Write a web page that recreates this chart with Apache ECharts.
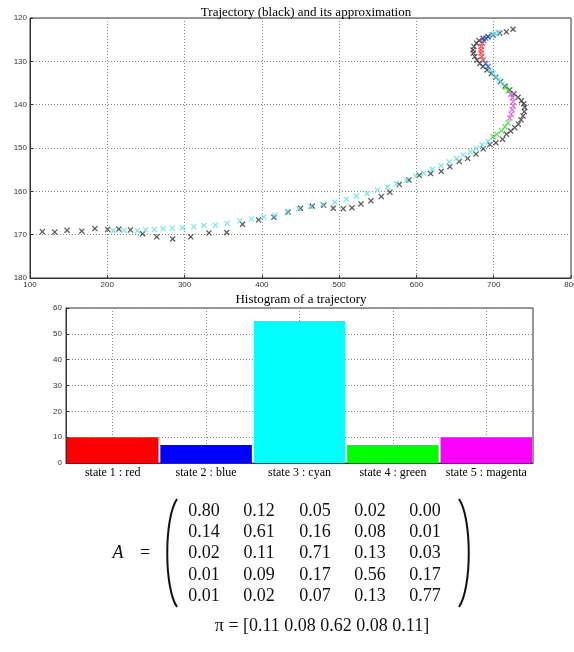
<!DOCTYPE html>
<html>
<head>
<meta charset="utf-8">
<script src="https://cdn.jsdelivr.net/npm/echarts@6/dist/echarts.min.js"></script>
<style>
html, body { margin: 0; padding: 0; background: #fff; }
#chart { width: 574px; height: 652px; }
</style>
</head>
<body>
<div id="chart"></div>
<script>
// observed trajectory (black crosses), [x, y]
var trajectory = [
    [116, 169.3], [132, 169.4], [148, 169.0], [167, 169.2], [184, 168.6], [200.5, 168.8],
    [215, 168.7], [230, 168.9], [245.7, 169.8], [264, 170.5], [284.6, 171.0], [308, 170.5],
    [331.6, 169.6], [354.5, 169.5], [375, 167.6], [395.8, 166.6], [415.6, 166.0], [434, 164.8],
    [450, 163.9], [465.3, 163.4], [480, 163.2], [492.4, 163.9], [505.3, 164.0], [516.6, 163.8],
    [528.2, 162.9], [541.1, 162.2], [554.5, 161.2], [565.7, 160.2], [577.8, 158.4], [590.3, 157.4],
    [603.7, 156.3], [618.3, 155.9], [632.1, 155.4], [643.3, 154.3], [655.4, 153.1], [666.2, 152.4],
    [677, 151.4], [686.4, 150.2], [695, 149.2], [702.8, 148.8], [711.5, 148.0],
    [716.4, 146.8], [722, 146.1], [727.2, 145.3], [731.9, 144.5], [735.3, 143.5], [737.9, 142.6],
    [739.7, 141.6], [740.1, 140.6], [738.8, 139.8], [735.8, 139.1], [731.5, 138.3], [726.3, 137.5],
    [720.7, 136.6], [714.6, 135.7], [708.7, 134.7], [702.6, 133.7], [697, 132.8], [691.4, 132.0],
    [686.2, 131.2], [681.9, 130.5], [678.4, 129.7], [675.4, 128.9], [673.7, 128.1], [673.3, 127.4],
    [674.5, 126.6], [677.6, 125.8], [681, 125.2], [686.2, 124.7], [692.7, 124.3], [699.2, 123.9],
    [707.8, 123.5], [716.4, 123.2], [725, 122.6]
];

// approximation, one list per state colour
var approxCyan = [
    [207.8, 169.1], [221.6, 169.0], [238.8, 169.1], [249.6, 168.9], [260.8, 168.8], [272.4, 168.6],
    [284.1, 168.5], [297.4, 168.4], [312.1, 168.2], [325, 167.9], [339.7, 167.8], [355.2, 167.4],
    [371.6, 166.8], [386.7, 166.4], [402.6, 165.9], [416.8, 165.5], [433, 164.6], [448, 164.0],
    [463, 163.5], [479, 163.0], [494.4, 162.5], [509.5, 161.8], [522.4, 161.1], [536.2, 160.5],
    [549.6, 159.7], [562.5, 159.0], [574.2, 158.2], [587.1, 157.4], [599.2, 156.5], [609.5, 155.8],
    [620.7, 154.9], [631.9, 154.1], [642.2, 153.2], [651.8, 152.4], [660.4, 151.6], [669.9, 150.9],
    [677.6, 150.1], [684.9, 149.3], [692.7, 148.5],
    [695.8, 132.0], [699.2, 132.8], [702.6, 133.5], [706.9, 134.3], [711.3, 135.2],
    [697, 123.9], [701.3, 123.5], [705.6, 123.3]
];
var approxGreen = [
    [715.6, 136.0], [718.6, 136.8],
    [718.6, 144.2], [714.6, 145.1], [710, 146.0], [704.3, 146.8], [699.2, 147.4]
];
var approxMagenta = [
    [722, 137.6], [724.2, 138.4], [725, 139.3], [725, 140.3], [723.8, 141.2], [722.5, 142.2], [720.7, 143.1]
];
var approxRed = [
    [686.2, 129.7], [684.5, 128.9], [683.6, 128.1], [683.6, 127.4], [684.1, 126.6], [685.4, 125.8]
];
var approxBlue = [
    [687.1, 125.2], [689.7, 124.7], [692.7, 124.3], [692.7, 131.2], [689.7, 130.5]
];

// histogram
var states = ['state 1 : red', 'state 2 : blue', 'state 3 : cyan', 'state 4 : green', 'state 5 : magenta'];
var stateCounts = [10, 7, 55, 7, 10];
var stateColors = ['#ff0000', '#0000ff', '#00ffff', '#00ff00', '#ff00ff'];

// transition matrix and stationary distribution
var matrixA = [
    ['0.80', '0.12', '0.05', '0.02', '0.00'],
    ['0.14', '0.61', '0.16', '0.08', '0.01'],
    ['0.02', '0.11', '0.71', '0.13', '0.03'],
    ['0.01', '0.09', '0.17', '0.56', '0.17'],
    ['0.01', '0.02', '0.07', '0.13', '0.77']
];
var piValues = ['0.11', '0.08', '0.62', '0.08', '0.11'];

var crossSymbol = 'path://M0,1.5L1.5,0L5,3.5L8.5,0L10,1.5L6.5,5L10,8.5L8.5,10L5,6.5L1.5,10L0,8.5L3.5,5Z';
var gridDots = { color: '#888', type: [1, 2], width: 1 };
var tickFont = { fontSize: 8, color: '#333', fontFamily: 'Liberation Sans' };
var serif = '"Liberation Serif", serif';

function crossSeries(name, data, color) {
    return {
        name: name,
        type: 'scatter',
        xAxisIndex: 0,
        yAxisIndex: 0,
        symbol: crossSymbol,
        symbolSize: 6,
        itemStyle: { color: color },
        data: data,
        silent: true
    };
}

// matrix as text elements
var colX = [204, 259, 315, 370, 425];
var rowY = [511, 532, 553, 575, 596];
var graphics = [];
matrixA.forEach(function (row, i) {
    row.forEach(function (v, j) {
        graphics.push({
            type: 'text', x: colX[j], y: rowY[i],
            style: { text: v, font: '18px ' + serif, fill: '#111', align: 'center', verticalAlign: 'middle' }
        });
    });
});
graphics.push({
    type: 'text', x: 118, y: 553,
    style: { text: 'A', font: 'italic 18px ' + serif, fill: '#111', align: 'center', verticalAlign: 'middle' }
});
graphics.push({
    type: 'text', x: 145, y: 553,
    style: { text: '=', font: '18px ' + serif, fill: '#111', align: 'center', verticalAlign: 'middle' }
});
graphics.push({
    type: 'bezierCurve',
    shape: { x1: 177, y1: 499, x2: 177, y2: 607, cpx1: 164, cpy1: 518, cpx2: 164, cpy2: 588 },
    style: { stroke: '#111', lineWidth: 2, fill: null }
});
graphics.push({
    type: 'bezierCurve',
    shape: { x1: 459, y1: 499, x2: 459, y2: 607, cpx1: 472, cpy1: 518, cpx2: 472, cpy2: 588 },
    style: { stroke: '#111', lineWidth: 2, fill: null }
});
graphics.push({
    type: 'text', x: 322, y: 626,
    style: { text: '\u03c0 = [' + piValues.join(' ') + ']', font: '18px ' + serif, fill: '#111', align: 'center', verticalAlign: 'middle' }
});

var chart = echarts.init(document.getElementById('chart'));
var option = {
    animation: false,
    backgroundColor: '#fff',
    title: [{
        text: 'Trajectory (black) and its approximation',
        left: 301, top: 1, textAlign: 'center',
        textStyle: { fontFamily: serif, fontSize: 13, fontWeight: 'normal', color: '#000' }
    }, {
        text: 'Histogram of a trajectory',
        left: 296, top: 288, textAlign: 'center',
        textStyle: { fontFamily: serif, fontSize: 13, fontWeight: 'normal', color: '#000' }
    }],
    grid: [
        { left: 30, right: 3, top: 18, height: 260, outerBoundsMode: 'none', show: true, borderColor: '#333', borderWidth: 1 },
        { left: 66, right: 41, top: 308, height: 155, outerBoundsMode: 'none', show: true, borderColor: '#333', borderWidth: 1 }
    ],
    xAxis: [{
        gridIndex: 0, type: 'value', min: 100, max: 800, interval: 100,
        axisLine: { lineStyle: { color: '#333' } },
        axisTick: { inside: true, length: 3, lineStyle: { color: '#333' } },
        axisLabel: Object.assign({ margin: 3 }, tickFont),
        splitLine: { lineStyle: gridDots }
    }, {
        gridIndex: 1, type: 'category', data: states,
        axisLine: { lineStyle: { color: '#333' } },
        axisTick: { alignWithLabel: true, length: 2, lineStyle: { color: '#00f' } },
        axisLabel: { fontFamily: serif, fontSize: 12, color: '#000', margin: 4, interval: 0 },
        splitLine: { show: false }
    }, {
        gridIndex: 1, type: 'value', min: 0.5, max: 5.5, minInterval: 1, maxInterval: 1,
        axisLine: { show: false }, axisTick: { show: false }, axisLabel: { show: false },
        splitLine: { lineStyle: gridDots }
    }],
    yAxis: [{
        gridIndex: 0, type: 'value', inverse: true, min: 120, max: 180, interval: 10,
        axisLine: { lineStyle: { color: '#333' } },
        axisTick: { inside: true, length: 3, lineStyle: { color: '#333' } },
        axisLabel: Object.assign({ margin: 3 }, tickFont),
        splitLine: { lineStyle: gridDots }
    }, {
        gridIndex: 1, type: 'value', min: 0, max: 60, interval: 10,
        axisLine: { lineStyle: { color: '#333' } },
        axisTick: { inside: true, length: 3, lineStyle: { color: '#333' } },
        axisLabel: Object.assign({ margin: 4 }, tickFont),
        splitLine: { lineStyle: gridDots }
    }],
    series: [
        crossSeries('trajectory', trajectory, '#333'),
        crossSeries('cyan', approxCyan, '#5fe3e3'),
        crossSeries('green', approxGreen, '#3fd83f'),
        crossSeries('magenta', approxMagenta, '#e04fe0'),
        crossSeries('red', approxRed, '#e83030'),
        crossSeries('blue', approxBlue, '#3050e0'),
        {
            name: 'histogram',
            type: 'bar',
            xAxisIndex: 1,
            yAxisIndex: 1,
            barWidth: '98%',
            data: stateCounts.map(function (v, i) {
                return { value: v, itemStyle: { color: stateColors[i] } };
            }),
            silent: true
        }
    ],
    graphic: graphics
};
chart.setOption(option);
</script>
</body>
</html>
